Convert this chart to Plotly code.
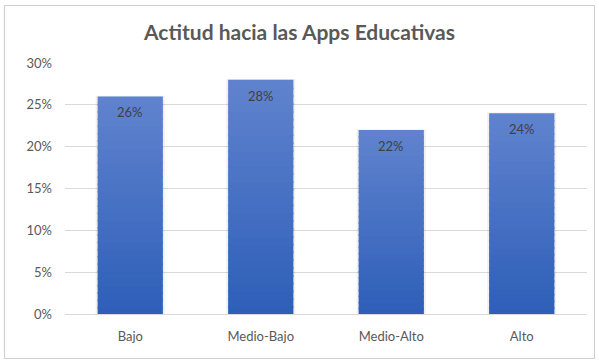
import plotly.graph_objects as go

categories = ["Bajo", "Medio-Bajo", "Medio-Alto", "Alto"]
values = [0.26, 0.28, 0.22, 0.24]
tick_vals = [0, 0.05, 0.10, 0.15, 0.20, 0.25, 0.30]
tick_text = ["0%", "5%", "10%", "15%", "20%", "25%", "30%"]
title_text = "Actitud hacia las Apps Educativas"

FONT = "Lato"
N = 30
OV = 0.002
top_rgb = (96, 131, 206)
bot_rgb = (45, 94, 184)

fig = go.Figure()
# soft shadow behind bars
fig.add_trace(go.Bar(
    x=categories, y=[v + 0.0008 for v in values], width=0.53,
    marker=dict(color="rgba(0,0,0,0.06)", line=dict(width=0)),
    hoverinfo="skip", showlegend=False,
))
# gradient: stacked segments of each bar (bottom dark -> top light)
for i in range(N):
    t = (i + 0.5) / N
    c = tuple(round(b + (tp - b) * t) for b, tp in zip(bot_rgb, top_rgb))
    bases = [max(0.0, v * i / N - OV) for v in values]
    tops = [v * (i + 1) / N for v in values]
    fig.add_trace(go.Bar(
        x=categories,
        y=[tp - b for tp, b in zip(tops, bases)],
        base=bases,
        marker=dict(color="rgb(%d,%d,%d)" % c, line=dict(width=0)),
        width=0.5,
        hoverinfo="skip",
        showlegend=False,
    ))

annotations = [
    dict(x=c, y=v, xref="x", yref="y", text="%d%%" % round(v * 100),
         showarrow=False, yanchor="middle", yshift=-16,
         font=dict(family=FONT, size=13, color="#404040"))
    for c, v in zip(categories, values)
]

fig.update_layout(
    width=599, height=364,
    barmode="overlay",
    paper_bgcolor="white",
    plot_bgcolor="white",
    margin=dict(l=65, r=12, t=63, b=50),
    title=dict(text="<b>" + title_text + "</b>", x=0.5, xanchor="center",
               y=1 - 33 / 364, yanchor="middle",
               font=dict(family=FONT, size=21, color="#595959")),
    font=dict(family=FONT, size=13, color="#595959"),
    xaxis=dict(showgrid=False, showline=True, linecolor="#D9D9D9", linewidth=1,
               ticks="", ticklabelstandoff=10, tickfont=dict(size=13, color="#595959")),
    yaxis=dict(range=[0, 0.30], tickvals=tick_vals, ticktext=tick_text,
               showgrid=True, gridcolor="#D9D9D9", gridwidth=1, zeroline=False,
               ticks="", ticklabelstandoff=12, tickfont=dict(size=13, color="#595959")),
    annotations=annotations,
    shapes=[dict(type="rect", xref="paper", yref="paper",
                 x0=(4.5 - 65) / 522, x1=(594.5 - 65) / 522,
                 y0=(314 - 358.5) / 251, y1=(314 - 5.5) / 251,
                 line=dict(color="#D0D0D0", width=1.2), fillcolor="rgba(0,0,0,0)",
                 layer="above")],
)

fig.write_html("out.html",
               config={"displayModeBar": False},
               post_script="document.body.style.margin='0';document.body.style.overflow='hidden';")
